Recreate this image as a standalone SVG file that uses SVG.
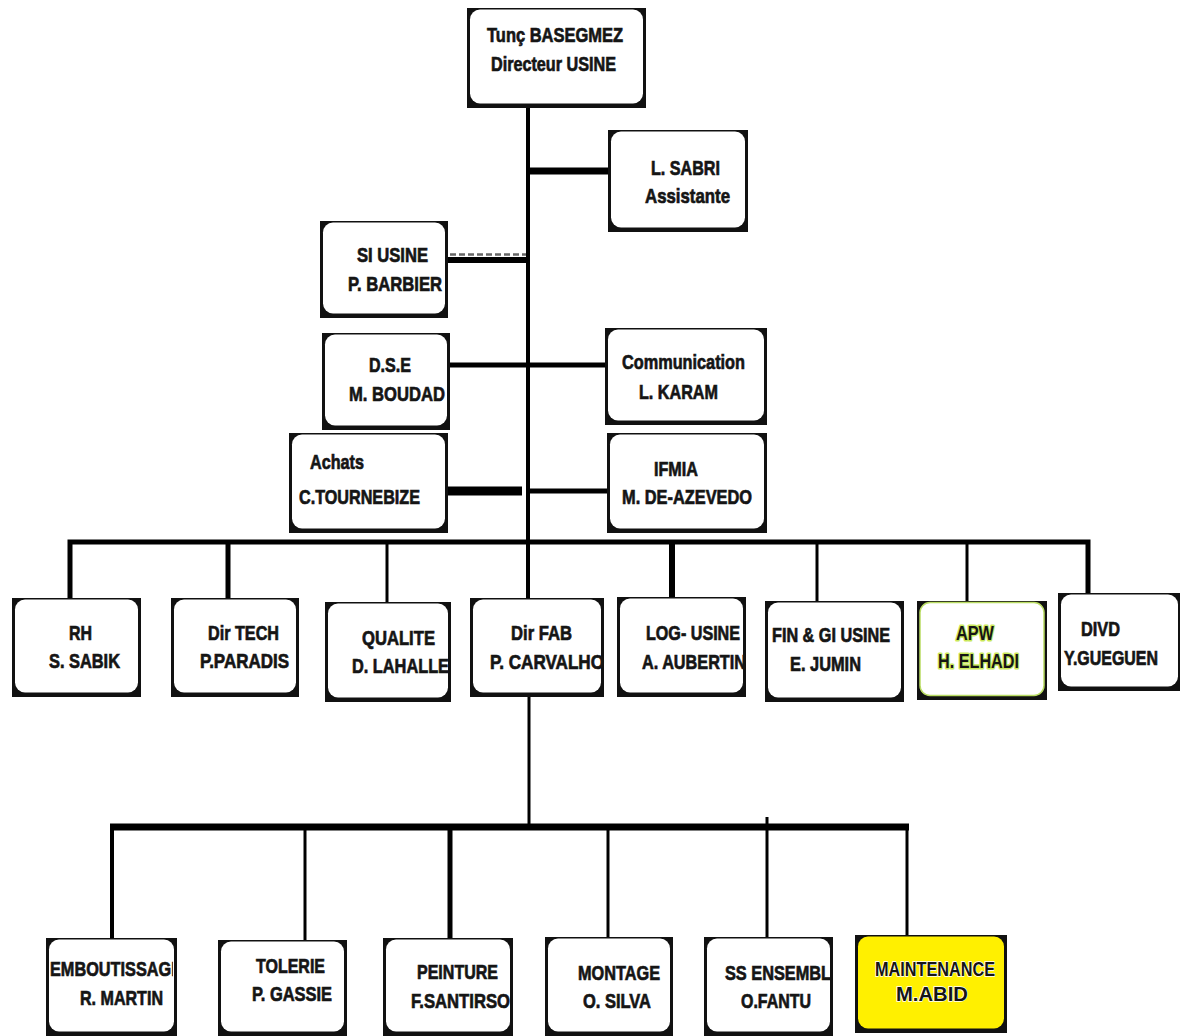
<svg xmlns="http://www.w3.org/2000/svg" width="1180" height="1036" viewBox="0 0 1180 1036">
<style>
.sh{fill:#111}
.bx{fill:#fff}
.t{font-family:"Liberation Sans Narrow","Liberation Sans",Arial,sans-serif;font-weight:bold;font-size:21px;fill:#151515;stroke:#151515;stroke-width:0.7;text-anchor:middle}
.s{text-anchor:start}
.ln{stroke:#000;fill:none;stroke-linecap:butt}
.apwt{stroke:#c9e85a;stroke-width:3;paint-order:stroke;stroke-linejoin:round}
.mt{stroke:#fff;stroke-width:1.5;paint-order:stroke}
</style>
<defs>
<clipPath id="cEmb"><rect x="49" y="930" width="124" height="110"/></clipPath>
<clipPath id="cSS"><rect x="707" y="930" width="124" height="110"/></clipPath>
</defs>
<rect width="1180" height="1036" fill="#fff"/>
<g id="connectors">
<line class="ln" x1="528" y1="106" x2="528" y2="600" stroke-width="4"/>
<line class="ln" x1="528" y1="171" x2="609" y2="171" stroke-width="7"/>
<line class="ln" x1="447" y1="260" x2="528" y2="260" stroke-width="6"/>
<line x1="450" y1="254.5" x2="526" y2="254.5" stroke="#666" stroke-width="2.5" stroke-dasharray="6 3"/>
<line class="ln" x1="449" y1="365" x2="607" y2="365" stroke-width="5"/>
<line class="ln" x1="447" y1="491" x2="522" y2="491" stroke-width="9"/>
<line class="ln" x1="530" y1="491" x2="608" y2="491" stroke-width="5"/>
<path class="ln" d="M70 600 V542 H1088 V596" stroke-width="5"/>
<line class="ln" x1="228" y1="542" x2="228" y2="600" stroke-width="5"/>
<line class="ln" x1="387" y1="542" x2="387" y2="604" stroke-width="3"/>
<line class="ln" x1="672" y1="542" x2="672" y2="599" stroke-width="6"/>
<line class="ln" x1="817" y1="544" x2="817" y2="603" stroke-width="3"/>
<line class="ln" x1="967" y1="542" x2="967" y2="603" stroke-width="3"/>
<line class="ln" x1="529" y1="695" x2="529" y2="827" stroke-width="3"/>
<line class="ln" x1="110" y1="827" x2="909" y2="827" stroke-width="7"/>
<line class="ln" x1="112" y1="827" x2="112" y2="940" stroke-width="4"/>
<line class="ln" x1="907" y1="827" x2="907" y2="936" stroke-width="3"/>
<line class="ln" x1="305" y1="827" x2="305" y2="941" stroke-width="3"/>
<line class="ln" x1="450" y1="827" x2="450" y2="966" stroke-width="5"/>
<line class="ln" x1="608" y1="827" x2="608" y2="938" stroke-width="3"/>
<line class="ln" x1="767" y1="817" x2="767" y2="938" stroke-width="3"/>
</g>
<g id="n-directeur">
<rect class="sh" x="467" y="8" width="179" height="100"/>
<rect class="bx" x="470" y="9.5" width="173" height="94" rx="10"/>
<text class="t" x="555" y="42" textLength="136" lengthAdjust="spacingAndGlyphs">Tunç BASEGMEZ</text>
<text class="t" x="553.5" y="71" textLength="125" lengthAdjust="spacingAndGlyphs">Directeur USINE</text>
</g>
<g id="n-sabri">
<rect class="sh" x="608" y="130" width="140" height="102"/>
<rect class="bx" x="611" y="131.5" width="134" height="96" rx="10"/>
<text class="t" x="685.5" y="175" textLength="69" lengthAdjust="spacingAndGlyphs">L. SABRI</text>
<text class="t" x="687.5" y="203" textLength="85" lengthAdjust="spacingAndGlyphs">Assistante</text>
</g>
<g id="n-si">
<rect class="sh" x="320" y="221" width="128" height="97"/>
<rect class="bx" x="323" y="222.5" width="122" height="91" rx="10"/>
<text class="t" x="392.5" y="262" textLength="71" lengthAdjust="spacingAndGlyphs">SI USINE</text>
<text class="t" x="395" y="291" textLength="94" lengthAdjust="spacingAndGlyphs">P. BARBIER</text>
</g>
<g id="n-dse">
<rect class="sh" x="322" y="333" width="128" height="97"/>
<rect class="bx" x="325" y="334.5" width="122" height="91" rx="10"/>
<text class="t" x="390" y="372" textLength="42" lengthAdjust="spacingAndGlyphs">D.S.E</text>
<text class="t" x="397" y="401" textLength="96" lengthAdjust="spacingAndGlyphs">M. BOUDAD</text>
</g>
<g id="n-comm">
<rect class="sh" x="605" y="328" width="162" height="97"/>
<rect class="bx" x="608" y="329.5" width="156" height="91" rx="10"/>
<text class="t" x="683.5" y="369" textLength="123" lengthAdjust="spacingAndGlyphs">Communication</text>
<text class="t" x="678.5" y="399" textLength="79" lengthAdjust="spacingAndGlyphs">L. KARAM</text>
</g>
<g id="n-achats">
<rect class="sh" x="289" y="433" width="159" height="100"/>
<rect class="bx" x="292" y="434.5" width="153" height="94" rx="10"/>
<text class="t" x="337" y="469" textLength="54" lengthAdjust="spacingAndGlyphs">Achats</text>
<text class="t" x="359.5" y="504" textLength="121" lengthAdjust="spacingAndGlyphs">C.TOURNEBIZE</text>
</g>
<g id="n-ifmia">
<rect class="sh" x="607" y="433" width="160" height="100"/>
<rect class="bx" x="610" y="434.5" width="154" height="94" rx="10"/>
<text class="t" x="676" y="476" textLength="44" lengthAdjust="spacingAndGlyphs">IFMIA</text>
<text class="t" x="687" y="504" textLength="130" lengthAdjust="spacingAndGlyphs">M. DE-AZEVEDO</text>
</g>
<g id="n-rh">
<rect class="sh" x="12" y="598" width="129" height="99"/>
<rect class="bx" x="15" y="599.5" width="123" height="93" rx="10"/>
<text class="t" x="80.5" y="640" textLength="23" lengthAdjust="spacingAndGlyphs">RH</text>
<text class="t" x="84.5" y="668" textLength="71" lengthAdjust="spacingAndGlyphs">S. SABIK</text>
</g>
<g id="n-tech">
<rect class="sh" x="171" y="598" width="128" height="99"/>
<rect class="bx" x="174" y="599.5" width="122" height="93" rx="10"/>
<text class="t" x="243.5" y="640" textLength="71" lengthAdjust="spacingAndGlyphs">Dir TECH</text>
<text class="t" x="244.5" y="668" textLength="89" lengthAdjust="spacingAndGlyphs">P.PARADIS</text>
</g>
<g id="n-qualite">
<rect class="sh" x="325" y="602" width="126" height="100"/>
<rect class="bx" x="328" y="603.5" width="120" height="94" rx="10"/>
<text class="t" x="398.5" y="645" textLength="73" lengthAdjust="spacingAndGlyphs">QUALITE</text>
<text class="t" x="400.5" y="673" textLength="97" lengthAdjust="spacingAndGlyphs">D. LAHALLE</text>
</g>
<g id="n-fab">
<rect class="sh" x="470" y="598" width="134" height="99"/>
<rect class="bx" x="473" y="599.5" width="128" height="93" rx="10"/>
<text class="t" x="541.5" y="640" textLength="61" lengthAdjust="spacingAndGlyphs">Dir FAB</text>
<text class="t" x="547" y="669" textLength="114" lengthAdjust="spacingAndGlyphs">P. CARVALHO</text>
</g>
<g id="n-log">
<rect class="sh" x="617" y="597" width="129" height="100"/>
<rect class="bx" x="620" y="598.5" width="123" height="94" rx="10"/>
<text class="t" x="693" y="640" textLength="94" lengthAdjust="spacingAndGlyphs">LOG- USINE</text>
<text class="t" x="694" y="669" textLength="104" lengthAdjust="spacingAndGlyphs">A. AUBERTIN</text>
</g>
<g id="n-fin">
<rect class="sh" x="765" y="601" width="139" height="101"/>
<rect class="bx" x="768" y="602.5" width="133" height="95" rx="10"/>
<text class="t" x="831" y="642" textLength="118" lengthAdjust="spacingAndGlyphs">FIN &amp; GI USINE</text>
<text class="t" x="825.5" y="671" textLength="71" lengthAdjust="spacingAndGlyphs">E. JUMIN</text>
</g>
<g id="n-apw">
<rect class="sh" x="917" y="601" width="130" height="99"/>
<rect class="bx" x="920" y="602.5" width="124" height="93" rx="10" stroke="#b9dc62" stroke-width="1.5"/>
<text class="t apwt" x="975" y="640" textLength="38" lengthAdjust="spacingAndGlyphs">APW</text>
<text class="t apwt" x="978.5" y="668" textLength="81" lengthAdjust="spacingAndGlyphs">H. ELHADI</text>
</g>
<g id="n-divd">
<rect class="sh" x="1058" y="593" width="122" height="98"/>
<rect class="bx" x="1061" y="594.5" width="117" height="92" rx="10"/>
<text class="t" x="1100.5" y="636" textLength="39" lengthAdjust="spacingAndGlyphs">DIVD</text>
<text class="t" transform="translate(1111 665) scale(0.76 1)" x="0" y="0" font-size="20">Y.GUEGUEN</text>
</g>
<g id="n-emb">
<rect class="sh" x="46" y="938" width="131" height="98"/>
<rect class="bx" x="49" y="939.5" width="125" height="92" rx="10"/>
<text class="t s" x="50" y="976" textLength="132" lengthAdjust="spacingAndGlyphs" clip-path="url(#cEmb)">EMBOUTISSAGE</text>
<text class="t" x="121.5" y="1005" textLength="83" lengthAdjust="spacingAndGlyphs">R. MARTIN</text>
</g>
<g id="n-tol">
<rect class="sh" x="218" y="940" width="129" height="96"/>
<rect class="bx" x="221" y="941.5" width="123" height="90" rx="10"/>
<text class="t" x="290.5" y="973" textLength="69" lengthAdjust="spacingAndGlyphs">TOLERIE</text>
<text class="t" x="292" y="1001" textLength="80" lengthAdjust="spacingAndGlyphs">P. GASSIE</text>
</g>
<g id="n-pein">
<rect class="sh" x="383" y="938" width="130" height="98"/>
<rect class="bx" x="386" y="939.5" width="124" height="92" rx="10"/>
<text class="t" x="457.5" y="979" textLength="81" lengthAdjust="spacingAndGlyphs">PEINTURE</text>
<text class="t" x="460.5" y="1008" textLength="99" lengthAdjust="spacingAndGlyphs">F.SANTIRSO</text>
</g>
<g id="n-mont">
<rect class="sh" x="545" y="937" width="128" height="99"/>
<rect class="bx" x="548" y="938.5" width="122" height="93" rx="10"/>
<text class="t" x="619" y="980" textLength="82" lengthAdjust="spacingAndGlyphs">MONTAGE</text>
<text class="t" x="617" y="1008" textLength="68" lengthAdjust="spacingAndGlyphs">O. SILVA</text>
</g>
<g id="n-ss">
<rect class="sh" x="704" y="937" width="129" height="99"/>
<rect class="bx" x="707" y="938.5" width="123" height="93" rx="10"/>
<text class="t" x="778" y="980" textLength="106" lengthAdjust="spacingAndGlyphs" clip-path="url(#cSS)">SS ENSEMBL</text>
<text class="t" x="776" y="1008" textLength="70" lengthAdjust="spacingAndGlyphs">O.FANTU</text>
</g>
<g id="n-maint">
<rect class="sh" x="855" y="935" width="152" height="98"/>
<rect x="858" y="936.5" width="146" height="92" rx="10" fill="#fff000"/>
<text class="t mt" x="935" y="976" textLength="120" lengthAdjust="spacingAndGlyphs">MAINTENANCE</text>
<text class="t mt" x="932" y="1001" font-size="23" textLength="72" lengthAdjust="spacingAndGlyphs">M.ABID</text>
</g>
</svg>
